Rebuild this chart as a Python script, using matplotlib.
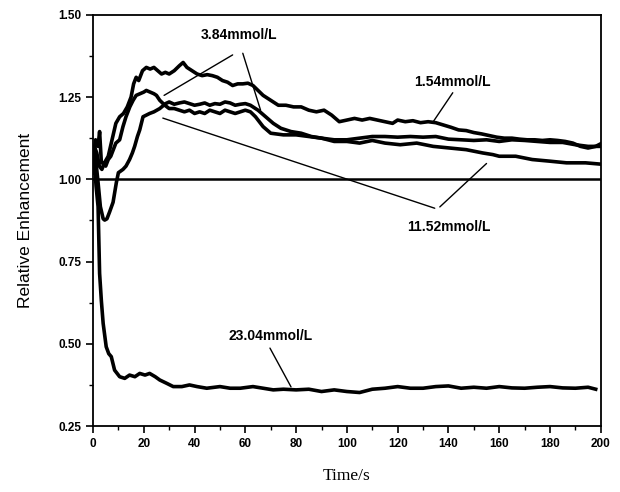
import matplotlib
matplotlib.use('Agg')
import matplotlib.pyplot as plt
from matplotlib.ticker import MultipleLocator, FormatStrFormatter

# 1.54 mmol/L (top curve)
t_154 = [0, 0.5, 1.5, 2.5, 3.5, 4.5, 6, 7.5, 9, 10.5, 12, 13.5, 15, 16, 17, 18, 19.5, 21, 22.5, 24,
         25.5, 27, 28.5, 30, 32, 34, 35.5, 37, 39, 41, 43, 45, 47, 49, 51, 53, 55, 57, 59, 61,
         63, 65, 67, 69, 71, 73, 76, 79, 82, 85, 88, 91, 94, 97, 100, 103, 106, 109, 112, 115,
         118, 120, 123, 126, 129, 132, 135, 138, 141, 144, 147, 150, 153, 156, 159, 162, 165, 168, 171, 174,
         177, 180, 183, 186, 189, 192, 195, 198, 200]
y_154 = [1.02, 1.10, 1.08, 1.04, 1.03, 1.05, 1.07, 1.12, 1.17, 1.19, 1.20, 1.22, 1.25, 1.29, 1.31, 1.30, 1.33, 1.34, 1.335, 1.34,
         1.33, 1.32, 1.325, 1.32, 1.33, 1.345, 1.355, 1.34, 1.33, 1.32, 1.315, 1.318, 1.315, 1.31, 1.30, 1.295, 1.285, 1.29, 1.29, 1.292,
         1.285, 1.27, 1.255, 1.245, 1.235, 1.225, 1.225, 1.22, 1.22, 1.21, 1.205, 1.21, 1.195, 1.175, 1.18, 1.185, 1.18, 1.185, 1.18, 1.175,
         1.17, 1.18, 1.175, 1.178, 1.172, 1.175, 1.172, 1.165, 1.158, 1.15, 1.148, 1.142, 1.138, 1.133, 1.128, 1.125, 1.125, 1.122, 1.12, 1.12,
         1.118, 1.12, 1.118, 1.115, 1.11, 1.10, 1.095, 1.10, 1.108]

# 3.84 mmol/L
t_384 = [0, 1, 2, 2.6, 3.3, 4, 5, 6, 7, 8, 9, 10.5, 11.8, 13, 14.5, 15.8, 17, 18.5, 20, 21,
         22.5, 24, 25, 26.3, 28.3, 30, 32, 34, 36, 38, 40, 42, 44, 46, 48, 50, 52, 54, 56, 58,
         60, 62, 64, 67, 70, 75, 80, 85, 90, 95, 100, 105, 110, 115, 120, 125, 130, 135, 140, 145,
         150, 155, 160, 165, 170, 175, 180, 185, 190, 195, 200]
y_384 = [1.05, 1.12, 1.10, 1.145, 1.05, 1.05, 1.04, 1.06, 1.07, 1.09, 1.11, 1.12, 1.16, 1.19, 1.22, 1.24, 1.255, 1.26, 1.265, 1.27,
         1.265, 1.26, 1.255, 1.24, 1.225, 1.215, 1.215, 1.21, 1.205, 1.21, 1.20, 1.205, 1.20, 1.21, 1.205, 1.20, 1.21, 1.205, 1.20, 1.205,
         1.21, 1.205, 1.19, 1.16, 1.14, 1.135, 1.135, 1.13, 1.125, 1.12, 1.12, 1.125, 1.13, 1.13, 1.128, 1.13, 1.128, 1.13, 1.122, 1.12,
         1.118, 1.12, 1.115, 1.12, 1.118, 1.115, 1.112, 1.112, 1.105, 1.10, 1.10]

# 11.52 mmol/L
t_1152 = [0, 0.5, 1.2, 2, 2.9, 4, 4.6, 5.5, 6.5, 7.9, 9.2, 10, 11.8, 13, 14.4, 15.5, 16.4, 17.5, 18.4, 19.7,
          21, 22.3, 24, 26.3, 28.6, 30, 32, 34, 36, 38, 40, 42, 44, 46, 48, 50, 52, 54, 56, 58,
          60, 62, 65, 68, 71, 74, 78, 82, 86, 90, 95, 100, 105, 110, 115, 121, 127.5, 134, 140.5, 147,
          153.5, 157.5, 160, 166.5, 173, 180, 186.5, 194, 200]
y_1152 = [1.05, 1.10, 1.05, 0.99, 0.917, 0.88, 0.876, 0.88, 0.90, 0.93, 0.99, 1.02, 1.03, 1.04, 1.06, 1.08, 1.10, 1.13, 1.15, 1.19,
          1.195, 1.20, 1.205, 1.215, 1.23, 1.235, 1.228, 1.232, 1.235, 1.23, 1.225, 1.228, 1.232, 1.225, 1.23, 1.228, 1.235, 1.232, 1.225, 1.228,
          1.23, 1.225, 1.21, 1.19, 1.17, 1.155, 1.145, 1.14, 1.13, 1.125, 1.115, 1.115, 1.11, 1.118, 1.11, 1.105, 1.11, 1.10, 1.095, 1.09,
          1.08, 1.075, 1.07, 1.07, 1.06, 1.055, 1.05, 1.05, 1.046]

# 23.04 mmol/L
t_2304 = [0, 0.5, 1.2, 2, 2.6, 3.3, 4, 5.2, 6.2, 7.2, 8.5, 10.5, 12.5, 14.4, 16.5, 18.4, 20.5, 22.3, 24.5, 26.3,
          29, 31.6, 35, 38, 41, 44.8, 50, 54, 58, 63, 67, 71, 75, 80, 85, 90, 95, 100, 105, 110,
          115, 120, 125, 130, 135, 140, 145, 150, 155, 160, 165, 170, 175, 180, 185, 190, 195, 198]
y_2304 = [1.02, 1.06, 0.98, 0.917, 0.714, 0.63, 0.562, 0.491, 0.47, 0.461, 0.42, 0.40, 0.395, 0.405, 0.40, 0.41, 0.405, 0.41, 0.40, 0.39,
          0.38, 0.37, 0.37, 0.375, 0.37, 0.365, 0.37, 0.365, 0.365, 0.37, 0.365, 0.36, 0.362, 0.36, 0.362, 0.355, 0.36, 0.355, 0.352, 0.362,
          0.365, 0.37, 0.365, 0.365, 0.37, 0.372, 0.365, 0.368, 0.365, 0.37, 0.366, 0.365, 0.368, 0.37, 0.366, 0.365, 0.368, 0.362]

series = [(t_154, y_154), (t_384, y_384), (t_1152, y_1152), (t_2304, y_2304)]

# label text, text position, leader line endpoints (start, end)
labels = ['3.84mmol/L', '1.54mmol/L', '11.52mmol/L', '23.04mmol/L']
label_pos = [(57.5, 1.437), (141.5, 1.295), (140, 0.855), (70, 0.525)]
leaders = [[((55, 1.378), (28, 1.255)), ((59, 1.383), (66, 1.21))],
           [((141.7, 1.263), (134, 1.175))],
           [((134.6, 0.912), (27.5, 1.186)), ((136.6, 0.916), (155, 1.048))],
           [((69.7, 0.487), (78, 0.369))]]

fig = plt.figure(figsize=(6.2, 4.92), dpi=100)
ax = fig.add_axes([0.150, 0.134, 0.819, 0.836])

for t, y in series:
    ax.plot(t, y, color='black', lw=2.6, solid_joinstyle='round')
ax.axhline(1.0, color='black', lw=1.8)

for lab, pos, lines in zip(labels, label_pos, leaders):
    ax.text(pos[0], pos[1], lab, ha='center', va='center', fontsize=10,
            fontweight='bold', family='Liberation Sans')
    for p0, p1 in lines:
        ax.annotate('', xy=p1, xytext=p0,
                    arrowprops=dict(arrowstyle='-', lw=1.0, color='black',
                                    shrinkA=0, shrinkB=0))

ax.set_xlim(0, 200)
ax.set_ylim(0.25, 1.50)
ax.xaxis.set_major_locator(MultipleLocator(20))
ax.xaxis.set_minor_locator(MultipleLocator(10))
ax.yaxis.set_major_locator(MultipleLocator(0.25))
ax.yaxis.set_minor_locator(MultipleLocator(0.125))
ax.yaxis.set_major_formatter(FormatStrFormatter('%.2f'))
ax.tick_params(which='major', direction='out', length=5, width=1.2,
               labelsize=8.5, top=False, right=False)
ax.tick_params(which='minor', direction='out', length=3, width=1,
               top=False, right=False)
for lab in ax.get_xticklabels() + ax.get_yticklabels():
    lab.set_family('Liberation Sans')
    lab.set_fontweight('bold')
for s in ax.spines.values():
    s.set_linewidth(1.3)

ax.set_ylabel('Relative Enhancement', fontsize=12.5, family='Liberation Sans', labelpad=18)
ax.set_xlabel('Time/s', fontsize=12.5, family='Liberation Serif', labelpad=13)

fig.savefig('out.png', dpi=100)
